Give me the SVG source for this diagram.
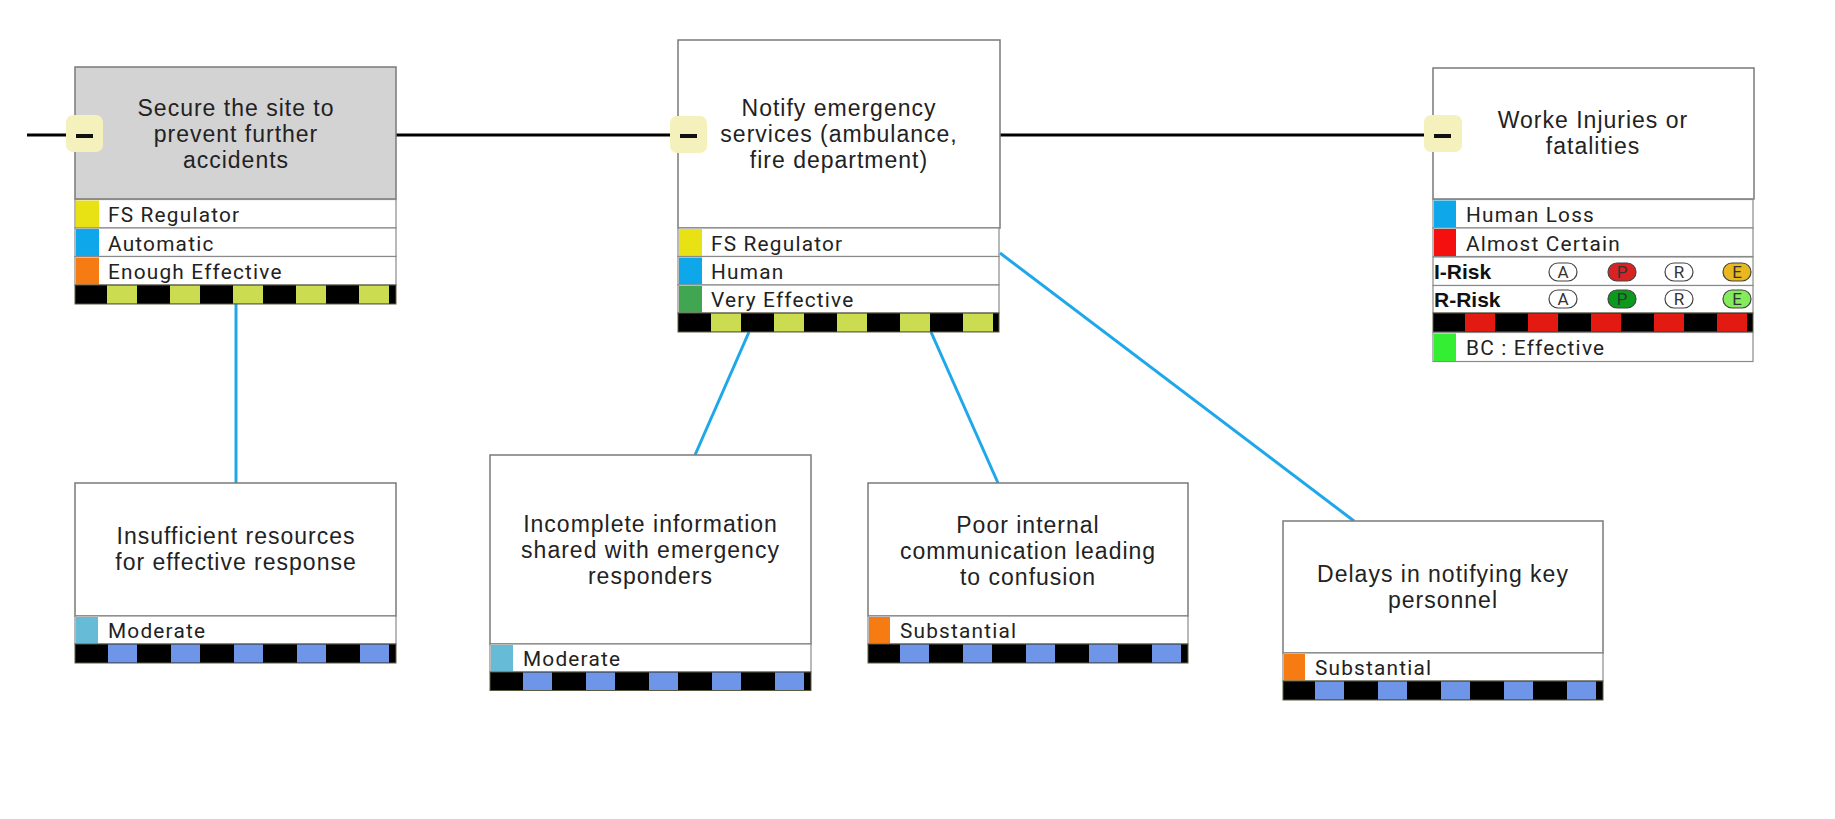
<svg xmlns="http://www.w3.org/2000/svg" width="1835" height="819" viewBox="0 0 1835 819">
<style>
.hdr{fill:#fff;stroke:#7a7a7a;stroke-width:1.5}
.hdrg{fill:#d3d3d3;stroke:#7a7a7a;stroke-width:1.5}
.row{fill:#fff;stroke:#8a8a8a;stroke-width:1.2}
.t{font-family:"Liberation Sans",Arial,sans-serif;font-size:23px;letter-spacing:1px;fill:#222;text-anchor:middle}
.r{font-family:Roboto,"Liberation Sans",sans-serif;font-size:20.8px;fill:#222;letter-spacing:1.2px}
.b{font-family:"Liberation Sans",Arial,sans-serif;font-size:21px;font-weight:bold;fill:#111}
.pl{font-family:Roboto,"Liberation Sans",sans-serif;font-size:17px;fill:#333;text-anchor:middle}
.pill{stroke:#444;stroke-width:1.2}
.sbg{fill:#000;stroke:#5a5a40;stroke-width:1}
.lime{stroke:#cbdc50;stroke-dasharray:30 33}
.blu{stroke:#6f95e8;stroke-dasharray:29 34}
.red{stroke:#e21a12;stroke-dasharray:30 33}
.badge{fill:#f4f1bd}
.conn{stroke:#1ea7ea;stroke-width:3;fill:none}
</style>

<g id="connectors">
  <line x1="27" y1="135" x2="1433" y2="135" stroke="#000" stroke-width="3"/>
  <line class="conn" x1="236" y1="303" x2="236" y2="483"/>
  <line class="conn" x1="749" y1="332" x2="695" y2="455"/>
  <line class="conn" x1="931" y1="332" x2="998" y2="483"/>
  <line class="conn" x1="1000" y1="253" x2="1354" y2="521"/>
</g>

<g id="node-secure">
  <rect class="hdrg" x="75" y="67" width="321" height="132"/>
  <text class="t" x="236" y="115.5">Secure the site to</text>
  <text class="t" x="236" y="141.5">prevent further</text>
  <text class="t" x="236" y="167.5">accidents</text>
  <rect class="row" x="75" y="199.5" width="321" height="28.5"/>
  <rect x="76" y="200.5" width="23" height="27" fill="#e8e114"/>
  <text class="r" x="108" y="222">FS Regulator</text>
  <rect class="row" x="75" y="228" width="321" height="28.5"/>
  <rect x="76" y="229" width="23" height="27" fill="#0ea8ea"/>
  <text class="r" x="108" y="250.5">Automatic</text>
  <rect class="row" x="75" y="256.5" width="321" height="28.5"/>
  <rect x="76" y="257.5" width="23" height="27" fill="#f57b12"/>
  <text class="r" x="108" y="279">Enough Effective</text>
  <rect class="sbg" x="75" y="285" width="321" height="19"/>
  <line class="lime" x1="107" y1="294.5" x2="395.5" y2="294.5" stroke-width="18"/>
  <rect class="badge" x="66" y="115" width="37" height="37" rx="7"/>
  <rect x="76" y="134" width="17" height="4" fill="#111"/>
</g>

<g id="node-notify">
  <rect class="hdr" x="678" y="40" width="322" height="188"/>
  <text class="t" x="839" y="115.5">Notify emergency</text>
  <text class="t" x="839" y="141.5">services (ambulance,</text>
  <text class="t" x="839" y="167.5">fire department)</text>
  <rect class="row" x="678" y="228" width="321" height="28.5"/>
  <rect x="679" y="229" width="23" height="27" fill="#e8e114"/>
  <text class="r" x="711" y="250.5">FS Regulator</text>
  <rect class="row" x="678" y="256.5" width="321" height="28.5"/>
  <rect x="679" y="257.5" width="23" height="27" fill="#0ea8ea"/>
  <text class="r" x="711" y="279">Human</text>
  <rect class="row" x="678" y="285" width="321" height="28"/>
  <rect x="679" y="286" width="23" height="26.5" fill="#40a652"/>
  <text class="r" x="711" y="307">Very Effective</text>
  <rect class="sbg" x="678" y="313" width="321" height="19"/>
  <line class="lime" x1="711" y1="322.5" x2="998.5" y2="322.5" stroke-width="18"/>
  <rect class="badge" x="670" y="116" width="37" height="37" rx="7"/>
  <rect x="680" y="134" width="17" height="4" fill="#111"/>
</g>

<g id="node-injuries">
  <rect class="hdr" x="1433" y="68" width="321" height="131"/>
  <text class="t" x="1593" y="128">Worke Injuries or</text>
  <text class="t" x="1593" y="154">fatalities</text>
  <rect class="row" x="1433" y="199.5" width="320" height="28.5"/>
  <rect x="1434" y="200.5" width="22" height="27" fill="#0ea8ea"/>
  <text class="r" x="1466" y="222">Human Loss</text>
  <rect class="row" x="1433" y="228" width="320" height="28.5"/>
  <rect x="1434" y="229" width="22" height="27" fill="#f51010"/>
  <text class="r" x="1466" y="250.5">Almost Certain</text>
  <rect class="row" x="1433" y="257" width="320" height="28.5"/>
  <text class="b" x="1434" y="279">I-Risk</text>
  <rect class="pill" x="1549" y="263" width="28" height="18" rx="9" fill="#fff"/>
  <text class="pl" x="1563" y="278">A</text>
  <rect class="pill" x="1608" y="263" width="28" height="18" rx="9" fill="#d92222"/>
  <text class="pl" x="1622" y="278">P</text>
  <rect class="pill" x="1665" y="263" width="28" height="18" rx="9" fill="#fff"/>
  <text class="pl" x="1679" y="278">R</text>
  <rect class="pill" x="1723" y="263" width="28" height="18" rx="9" fill="#e8b81e"/>
  <text class="pl" x="1737" y="278">E</text>
  <rect class="row" x="1433" y="285.5" width="320" height="27.5"/>
  <text class="b" x="1434" y="307">R-Risk</text>
  <rect class="pill" x="1549" y="290" width="28" height="18" rx="9" fill="#fff"/>
  <text class="pl" x="1563" y="305">A</text>
  <rect class="pill" x="1608" y="290" width="28" height="18" rx="9" fill="#0c9a1c"/>
  <text class="pl" x="1622" y="305">P</text>
  <rect class="pill" x="1665" y="290" width="28" height="18" rx="9" fill="#fff"/>
  <text class="pl" x="1679" y="305">R</text>
  <rect class="pill" x="1723" y="290" width="28" height="18" rx="9" fill="#84ec5c"/>
  <text class="pl" x="1737" y="305">E</text>
  <rect class="sbg" x="1433" y="313" width="320" height="19"/>
  <line class="red" x1="1465" y1="322.5" x2="1752.5" y2="322.5" stroke-width="18"/>
  <rect class="row" x="1433" y="332.5" width="320" height="29"/>
  <rect x="1434" y="333.5" width="22" height="27.5" fill="#33ee33"/>
  <text class="r" x="1466" y="355">BC : Effective</text>
  <rect class="badge" x="1424" y="115" width="38" height="37" rx="7"/>
  <rect x="1434" y="134" width="17" height="4" fill="#111"/>
</g>

<g id="node-insufficient">
  <rect class="hdr" x="75" y="483" width="321" height="133"/>
  <text class="t" x="236" y="544">Insufficient resources</text>
  <text class="t" x="236" y="570">for effective response</text>
  <rect class="row" x="75" y="616" width="321" height="28"/>
  <rect x="76" y="617" width="22" height="26.5" fill="#66bbd7"/>
  <text class="r" x="108" y="638">Moderate</text>
  <rect class="sbg" x="75" y="644" width="321" height="19"/>
  <line class="blu" x1="108" y1="653.5" x2="395.5" y2="653.5" stroke-width="18"/>
</g>

<g id="node-incomplete">
  <rect class="hdr" x="490" y="455" width="321" height="189"/>
  <text class="t" x="650.5" y="532">Incomplete information</text>
  <text class="t" x="650.5" y="558">shared with emergency</text>
  <text class="t" x="650.5" y="584">responders</text>
  <rect class="row" x="490" y="644" width="321" height="28"/>
  <rect x="491" y="645" width="22" height="26.5" fill="#66bbd7"/>
  <text class="r" x="523" y="666">Moderate</text>
  <rect class="sbg" x="490" y="672" width="321" height="18.5"/>
  <line class="blu" x1="523" y1="681.25" x2="810.5" y2="681.25" stroke-width="17.5"/>
</g>

<g id="node-poor">
  <rect class="hdr" x="868" y="483" width="320" height="133"/>
  <text class="t" x="1028" y="532.5">Poor internal</text>
  <text class="t" x="1028" y="558.5">communication leading</text>
  <text class="t" x="1028" y="584.5">to confusion</text>
  <rect class="row" x="868" y="616" width="320" height="28"/>
  <rect x="869" y="617" width="21" height="26.5" fill="#f57b12"/>
  <text class="r" x="900" y="638">Substantial</text>
  <rect class="sbg" x="868" y="644" width="320" height="19"/>
  <line class="blu" x1="900" y1="653.5" x2="1187.5" y2="653.5" stroke-width="18"/>
</g>

<g id="node-delays">
  <rect class="hdr" x="1283" y="521" width="320" height="132"/>
  <text class="t" x="1443" y="582">Delays in notifying key</text>
  <text class="t" x="1443" y="608">personnel</text>
  <rect class="row" x="1283" y="653" width="320" height="28"/>
  <rect x="1284" y="654" width="21" height="26.5" fill="#f57b12"/>
  <text class="r" x="1315" y="675">Substantial</text>
  <rect class="sbg" x="1283" y="681" width="320" height="19"/>
  <line class="blu" x1="1315" y1="690.5" x2="1602.5" y2="690.5" stroke-width="18"/>
</g>
</svg>
